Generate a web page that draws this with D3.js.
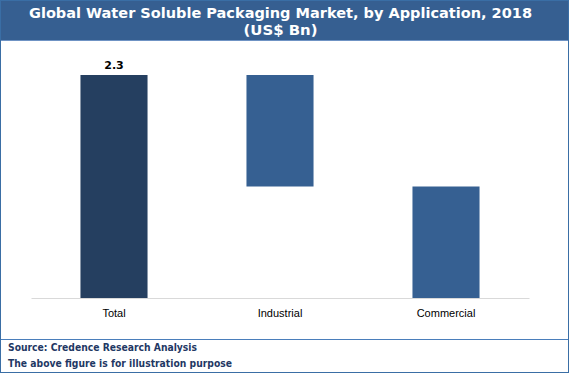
<!DOCTYPE html>
<html>
<head>
<meta charset="utf-8">
<script src="https://cdn.jsdelivr.net/npm/d3@7"></script>
<style>
  body { margin: 0; background: #fff; }
  svg { display: block; }
</style>
</head>
<body>
<svg id="chart" width="569" height="373"></svg>
<script>
// chart data
const categories = ["Total", "Industrial", "Commercial"];
const values = [2.3, 1.15, 1.15];
const valueLabels = ["2.3", "", ""];
const titleLines = ["Global Water Soluble Packaging Market, by Application, 2018", "(US$ Bn)"];
const footerLines = ["Source: Credence Research Analysis", "The above figure is for illustration purpose"];

const W = 569, H = 373;
const svg = d3.select("#chart");

// background + title band
svg.append("rect").attr("width", W).attr("height", H).attr("fill", "#fff");
svg.append("rect").attr("x", 0).attr("y", 0).attr("width", W).attr("height", 40).attr("fill", "#365f91");
svg.append("line").attr("x1", 0).attr("x2", W).attr("y1", 40.5).attr("y2", 40.5)
  .attr("stroke", "#6f93c4").attr("stroke-width", 1);

const titleWidths = [503, 74];
svg.selectAll("text.title")
  .data(titleLines)
  .enter().append("text")
  .attr("class", "title")
  .attr("x", 280.5)
  .attr("y", (d, i) => 18 + i * 17)
  .attr("text-anchor", "middle")
  .attr("fill", "#fff")
  .attr("font-family", "'DejaVu Sans', sans-serif")
  .attr("font-weight", "bold")
  .attr("font-size", 14)
  .attr("textLength", (d, i) => titleWidths[i])
  .attr("lengthAdjust", "spacingAndGlyphs")
  .text(d => d);

// scales
const x = d3.scaleBand()
  .domain(categories)
  .range([31, 529])
  .paddingInner(0.596)
  .paddingOuter(0.298);

const y = d3.scaleLinear()
  .domain([0, 2.3])
  .range([298, 75]);

// waterfall: total from zero, segments stepping down
let running = values[0];
const bars = categories.map((c, i) => {
  if (i === 0) return { cat: c, y0: 0, y1: values[0], label: valueLabels[i], total: true };
  let y1 = running, y0 = running - values[i];
  running = y0;
  return { cat: c, y0: y0, y1: y1, label: valueLabels[i], total: false };
});

svg.selectAll("rect.bar")
  .data(bars)
  .enter().append("rect")
  .attr("class", "bar")
  .attr("x", d => x(d.cat))
  .attr("width", x.bandwidth())
  .attr("y", d => y(d.y1))
  .attr("height", d => y(d.y0) - y(d.y1))
  .attr("fill", d => d.total ? "#253f60" : "#366092");

svg.selectAll("text.val")
  .data(bars.filter(d => d.label))
  .enter().append("text")
  .attr("class", "val")
  .attr("x", d => x(d.cat) + x.bandwidth() / 2)
  .attr("y", d => y(d.y1) - 6)
  .attr("text-anchor", "middle")
  .attr("font-family", "'DejaVu Sans', sans-serif")
  .attr("font-weight", "bold")
  .attr("font-size", 11)
  .attr("fill", "#000")
  .text(d => d.label);

// x axis
const axis = svg.append("g")
  .attr("transform", "translate(0,298)")
  .call(d3.axisBottom(x).tickSize(0).tickPadding(11));
axis.select(".domain").attr("stroke", "#d9d9d9").attr("stroke-width", 1.2);
axis.selectAll("text")
  .attr("font-family", "'Liberation Sans', sans-serif")
  .attr("font-size", 11)
  .attr("fill", "#000");

// footer
svg.append("line").attr("x1", 0).attr("x2", W).attr("y1", 339.5).attr("y2", 339.5)
  .attr("stroke", "#4a7ebb").attr("stroke-width", 1);

const footerWidths = [189, 224];
svg.selectAll("text.foot")
  .data(footerLines)
  .enter().append("text")
  .attr("class", "foot")
  .attr("x", 8)
  .attr("y", (d, i) => 351 + i * 16)
  .attr("fill", "#1f3864")
  .attr("font-family", "'DejaVu Sans', sans-serif")
  .attr("font-weight", "bold")
  .attr("font-size", 10)
  .attr("textLength", (d, i) => footerWidths[i])
  .attr("lengthAdjust", "spacingAndGlyphs")
  .text(d => d);

// outer frame
svg.append("rect").attr("x", 0.5).attr("y", 0.5).attr("width", W - 1).attr("height", H - 1)
  .attr("fill", "none").attr("stroke", "#3a6ea5").attr("stroke-width", 1);
</script>
</body>
</html>
